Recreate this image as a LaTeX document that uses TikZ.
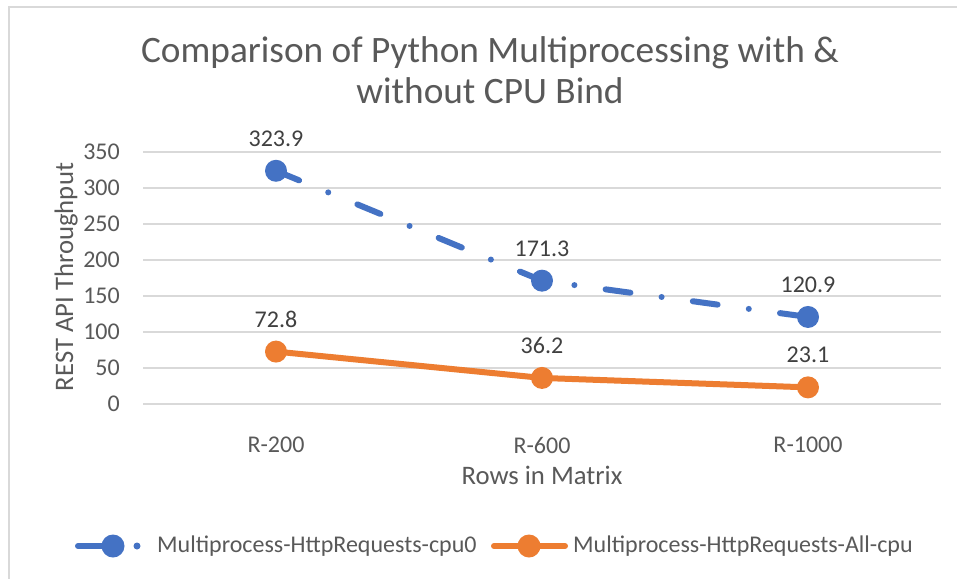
\documentclass[tikz,border=0pt]{standalone}
\usepackage{fontspec}
\setmainfont{Carlito}
\definecolor{txt}{HTML}{595959}
\definecolor{lbl}{HTML}{404040}
\definecolor{gridc}{HTML}{D9D9D9}
\definecolor{cblue}{HTML}{4472C4}
\definecolor{corange}{HTML}{ED7D31}
\begin{document}
\begin{tikzpicture}[x=1pt,y=-1pt,
  ticklbl/.style={text=txt,font=\fontsize{24}{29}\selectfont,inner sep=0pt},
  axtitle/.style={text=txt,font=\fontsize{26.7}{32}\selectfont,inner sep=0pt},
  charttitle/.style={text=txt,font=\fontsize{37.3}{44}\selectfont,inner sep=0pt},
  dlabel/.style={text=lbl,font=\fontsize{24}{29}\selectfont,inner sep=0pt},
  legtext/.style={text=txt,font=\fontsize{24}{29}\selectfont,inner sep=0pt},
  gridline/.style={draw=gridc,line width=2pt},
  blueline/.style={draw=cblue,line width=6pt,line cap=round,line join=round,
    dash pattern=on 25pt off 31.5pt on 0pt off 31.5pt},
  orangeline/.style={draw=corange,line width=6pt,line cap=round,line join=round},
  bmark/.style={circle,fill=cblue,inner sep=0pt,minimum size=22pt},
  omark/.style={circle,fill=corange,inner sep=0pt,minimum size=22pt},
]
\useasboundingbox (0,0) rectangle (957,578);
\fill[white] (0,0) rectangle (957,578);
% chart border
\draw[draw=gridc,line width=2pt] (9,600) -- (9,7) -- (980,7);
% title
\node[charttitle,anchor=base] (title1) at (490,63) {Comparison of Python Multiprocessing with \&};
\node[charttitle,anchor=base] (title2) at (490,103) {without CPU Bind};
% grid and y ticks
\foreach \v in {0,50,...,350}{
  \coordinate (gl\v) at (143,{404-0.72*\v});
  \coordinate (gr\v) at (941,{404-0.72*\v});
  \draw[gridline] (gl\v) -- (gr\v);
  \node[ticklbl,anchor=east] (yt\v) at (120,{404-0.72*\v}) {\v};
}
% axis titles
\node[axtitle,rotate=90,anchor=base] (ytitle) at (73,277) {REST API Throughput};
\node[axtitle] (xtitle) at (542,475) {Rows in Matrix};
% x labels
\node[ticklbl] (x1) at (276,445) {R-200};
\node[ticklbl] (x2) at (542,445) {R-600};
\node[ticklbl] (x3) at (808,445) {R-1000};
% data points
\coordinate (b1) at (276,{404-0.72*323.9});
\coordinate (b2) at (542,{404-0.72*171.3});
\coordinate (b3) at (808,{404-0.72*120.9});
\coordinate (o1) at (276,{404-0.72*72.8});
\coordinate (o2) at (542,{404-0.72*36.2});
\coordinate (o3) at (808,{404-0.72*23.1});
% series
\draw[orangeline] (o1) -- (o2) -- (o3);
\draw[blueline] (b1) -- (b2) -- (b3);
\node[bmark] (bm1) at (b1) {};
\node[bmark] (bm2) at (b2) {};
\node[bmark] (bm3) at (b3) {};
\node[omark] (om1) at (o1) {};
\node[omark] (om2) at (o2) {};
\node[omark] (om3) at (o3) {};
% data labels
\path (b1) ++(0,-24.5) node[dlabel,anchor=base] (lb1) {323.9};
\path (b2) ++(0,-24.5) node[dlabel,anchor=base] (lb2) {171.3};
\path (b3) ++(0,-24.5) node[dlabel,anchor=base] (lb3) {120.9};
\path (o1) ++(0,-24.5) node[dlabel,anchor=base] (lo1) {72.8};
\path (o2) ++(0,-24.5) node[dlabel,anchor=base] (lo2) {36.2};
\path (o3) ++(0,-24.5) node[dlabel,anchor=base] (lo3) {23.1};
% legend
\coordinate (lbA) at (78,546);
\coordinate (lbB) at (113,546);
\draw[draw=cblue,line width=6pt,line cap=round] (lbA) -- (lbB);
\node[bmark,minimum size=23pt] (lbm) at (lbB) {};
\node[circle,fill=cblue,inner sep=0pt,minimum size=7pt] (lbd) at (137,546) {};
\node[legtext,anchor=base west] (leg1) at (157,552) {Multiprocess-HttpRequests-cpu0};
\coordinate (loA) at (494,546);
\coordinate (loB) at (565,546);
\draw[draw=corange,line width=6pt,line cap=round] (loA) -- (loB);
\node[omark,minimum size=23pt] (lom) at (529,546) {};
\node[legtext,anchor=base west] (leg2) at (573,552) {Multiprocess-HttpRequests-All-cpu};
\end{tikzpicture}
\end{document}
